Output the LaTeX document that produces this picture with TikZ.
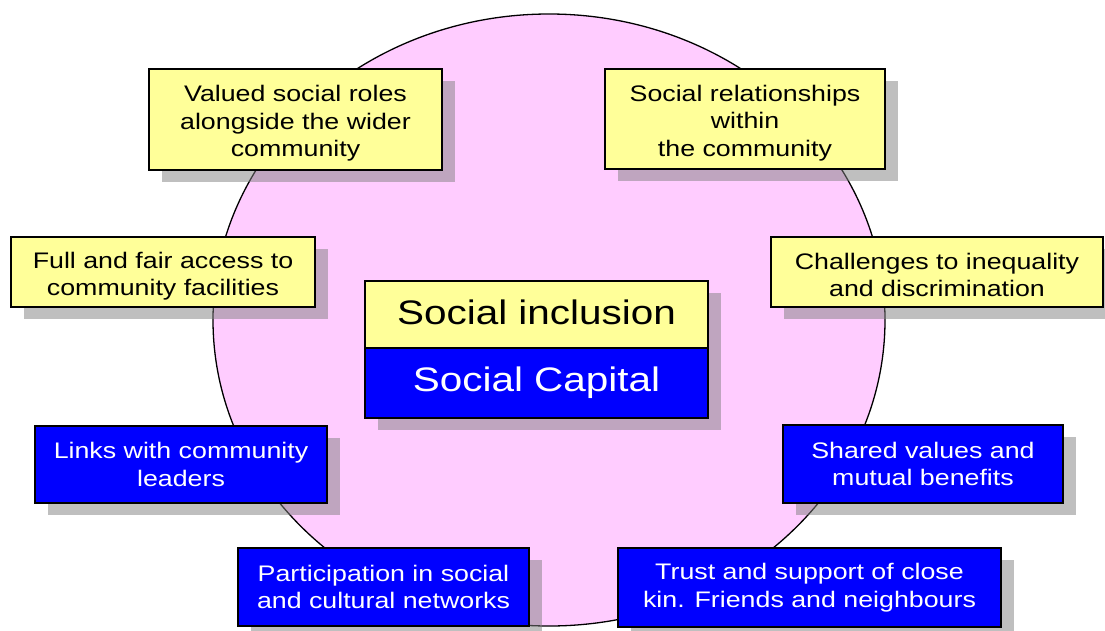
\documentclass[tikz,border=0pt]{standalone}
\usepackage{fontspec}
\setmainfont{Liberation Sans}[FakeStretch=1.19]
\usetikzlibrary{shadows}
\definecolor{pinkc}{HTML}{FFCCFF}
\definecolor{yelc}{HTML}{FFFF99}
\definecolor{bluc}{HTML}{0000FF}
\begin{document}
\begin{tikzpicture}[x=1pt,y=-1pt,
  box/.style={draw=black, line width=1.2pt, inner sep=0pt, align=center,
    drop shadow={shadow xshift=13pt, shadow yshift=-12pt, fill=gray, opacity=0.5}},
  yelbox/.style={box, fill=yelc, text=black},
  blubox/.style={box, fill=bluc, text=white},
  smalltxt/.style={font=\fontsize{22.5}{27.5}\selectfont},
  bigtxt/.style={font=\fontsize{34}{40}\selectfont},
  ytext/.style={smalltxt, align=center, inner sep=0pt, text=black}]
\useasboundingbox (0,0) rectangle (1105,630);
\fill[white] (0,0) rectangle (1105,630);
\draw[fill=pinkc, line width=1.3pt] (549,320) ellipse [x radius=336pt, y radius=306pt];

\node[yelbox, minimum width=293pt, minimum height=101pt] (val) at (295.5,119.5) {};
\node[ytext] (valt) at ([yshift=-4pt]val.center)
  {Valued social roles\\alongside the wider\\community};
\node[yelbox, minimum width=280pt, minimum height=100pt] (rel) at (745,119) {};
\node[ytext] (relt) at ([yshift=-4pt]rel.center)
  {Social relationships\\within\\the community};
\node[yelbox, minimum width=304pt, minimum height=70pt] (acc) at (163,272) {};
\node[ytext] (acct) at ([yshift=-4pt]acc.center)
  {Full and fair access to\\community facilities};
\node[yelbox, minimum width=332pt, minimum height=70pt] (chal) at (937,272) {};
\node[ytext] (chalt) at ([yshift=-3pt]chal.center)
  {Challenges to inequality\\and discrimination};

\node[yelbox, minimum width=343pt, minimum height=67pt] (incl) at (536.5,314.5) {};
\node[bigtxt, inner sep=0pt] (inclt) at ([yshift=2pt]incl.center) {Social inclusion};
\node[blubox, bigtxt, minimum width=343pt, minimum height=70pt] (cap) at (536.5,383)
  {Social Capital};

\node[blubox, smalltxt, minimum width=292pt, minimum height=77pt] (links) at (181,464.5)
  {Links with community\\leaders};
\node[blubox, smalltxt, minimum width=280pt, minimum height=78pt] (shared) at (923,464)
  {Shared values and\\mutual benefits};
\node[blubox, smalltxt, minimum width=291pt, minimum height=78pt] (part) at (383.5,587)
  {Participation in social\\and cultural networks};
\node[blubox, smalltxt, minimum width=383pt, minimum height=79pt] (trust) at (809.5,587.5)
  {Trust and support of close\\kin. Friends and neighbours};
\end{tikzpicture}
\end{document}
